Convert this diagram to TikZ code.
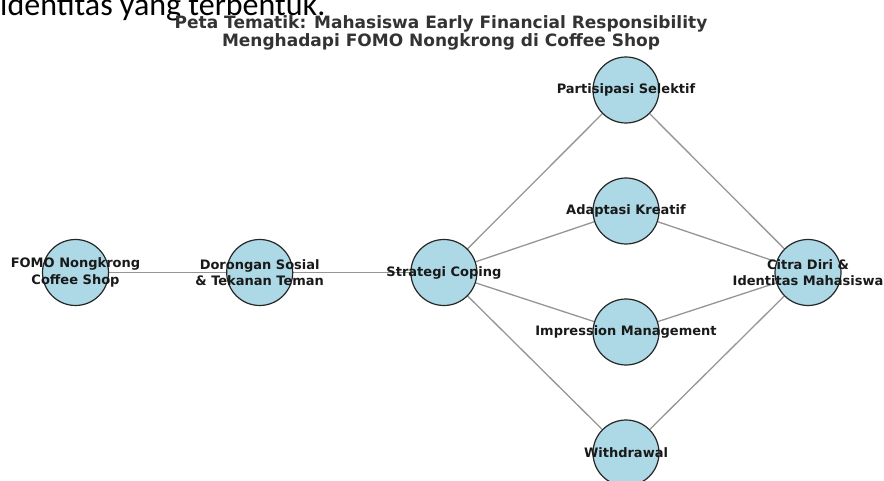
\documentclass[tikz,border=0pt]{standalone}
\usepackage{fontspec}
\setmainfont{DejaVu Sans}
\newfontfamily\carlito{Carlito}
\usepackage{tikz}
\usetikzlibrary{positioning, backgrounds}

\definecolor{nodeblue}{HTML}{ADD8E6}
\definecolor{edgegray}{HTML}{959595}
\definecolor{titlegray}{HTML}{333333}

\tikzset{
  topik/.style={draw=black!85, line width=1.2pt, circle, fill=nodeblue, minimum size=66pt, inner sep=0pt},
  topiklabel/.style={font=\bfseries\fontsize{13}{16.5}\selectfont, align=center, text=black!90},
  relasi/.style={draw=edgegray, line width=1.3pt}
}

\begin{document}
\begin{tikzpicture}[x=1pt, y=-1pt, node distance=117pt]
        \clip (0,0) rectangle (884,481);
        % Text above (cut off)
        \node (sisa) [anchor=base west, inner sep=0pt, font=\carlito\fontsize{32}{36}\selectfont] at (0,16) {identitas yang terbentuk.};
        \node (judul) [align=center, text=titlegray, font=\bfseries\fontsize{17}{18}\selectfont] at (441,33) {Peta Tematik: Mahasiswa Early Financial Responsibility\\Menghadapi FOMO Nongkrong di Coffee Shop};

        % Topics
        \node (fomo) [topik, label={[topiklabel]center:FOMO Nongkrong\\Coffee Shop}] at (75.5,272.5) {};
        \node (dorongan) [topik, label={[topiklabel]center:Dorongan Sosial\\\& Tekanan Teman}, right=of fomo] {};
        \node (coping) [topik, label={[topiklabel]center:Strategi Coping}, right=of dorongan] {};
        \node (partisipasi) [topik, label={[topiklabel]center:Partisipasi Selektif}] at (626,90) {};
        \node (adaptasi) [topik, label={[topiklabel]center:Adaptasi Kreatif}] at (626,211) {};
        \node (impression) [topik, label={[topiklabel]center:Impression Management}] at (626,332) {};
        \node (withdrawal) [topik, label={[topiklabel]center:Withdrawal}] at (626,453) {};
        \node (citra) [topik, label={[topiklabel]center:Citra Diri \&\\Identitas Mahasiswa}] at (808,272.5) {};

        % Relations
        \begin{pgfonlayer}{background}
        \draw[relasi] (fomo.center) -- (dorongan.center);
        \draw[relasi] (dorongan.center) -- (coping.center);
        \foreach \t in {partisipasi, adaptasi, impression, withdrawal} {
            \draw[relasi] (coping.center) -- (\t.center);
            \draw[relasi] (\t.center) -- (citra.center);
        }
        \end{pgfonlayer}
    \end{tikzpicture}
\end{document}
